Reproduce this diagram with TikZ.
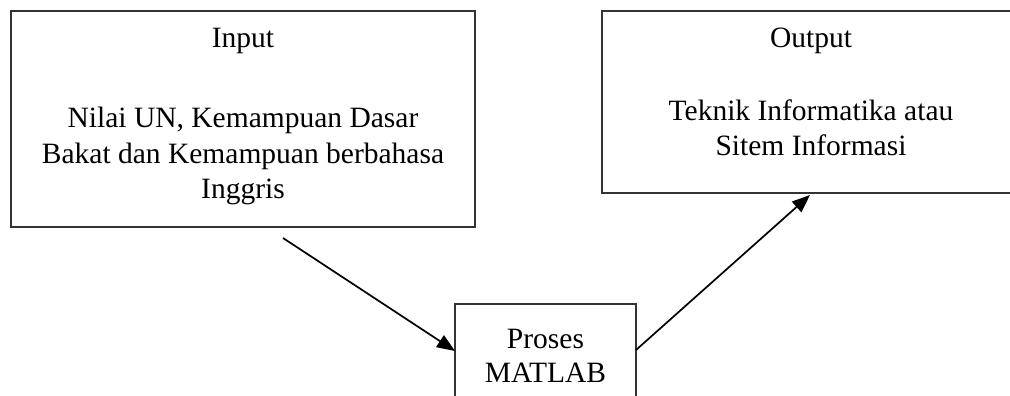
\documentclass[tikz,border=0pt]{standalone}
\usepackage{fontspec}
\setmainfont{Liberation Serif}
\usetikzlibrary{arrows.meta}
\begin{document}
\begin{tikzpicture}[x=1pt,y=-1pt,
  box/.style={draw=black!80, line width=1.5pt, inner sep=0pt},
  txt/.style={anchor=base, inner sep=0pt, font=\fontsize{29.5}{35}\selectfont},
  conn/.style={line width=1.7pt, -{Triangle[length=18pt,width=14pt]}}]
\useasboundingbox (0,0) rectangle (1010,396);
\clip (0,0) rectangle (1010,396);
% boxes
\node[box, minimum width=464pt, minimum height=216pt] (input) at (243,119) {};
\node[box, minimum width=418pt, minimum height=182pt] (output) at (811,102) {};
\node[box, minimum width=181pt, minimum height=120pt] (proses) at (545.5,364) {};
% texts
\node[txt] (t1) at (243,48) {Input};
\node[txt] (t2) at (243,128) {Nilai UN, Kemampuan Dasar};
\node[txt] (t3) at (243,163) {Bakat dan Kemampuan berbahasa};
\node[txt] (t4) at (243,198) {Inggris};
\node[txt] (t5) at (811,48) {Output};
\node[txt] (t6) at (811,121) {Teknik Informatika atau};
\node[txt] (t7) at (811,155) {Sitem Informasi};
\node[txt] (t8) at (545.5,348) {Proses};
\node[txt] (t9) at (545.5,382) {MATLAB};
% connector end points
\coordinate (a1s) at (283,238);
\coordinate (a1e) at (455,351);
\coordinate (a2s) at (636,350);
\coordinate (a2e) at (810,195);
\draw[conn] (a1s) -- (a1e);
\draw[conn] (a2s) -- (a2e);
\end{tikzpicture}
\end{document}
